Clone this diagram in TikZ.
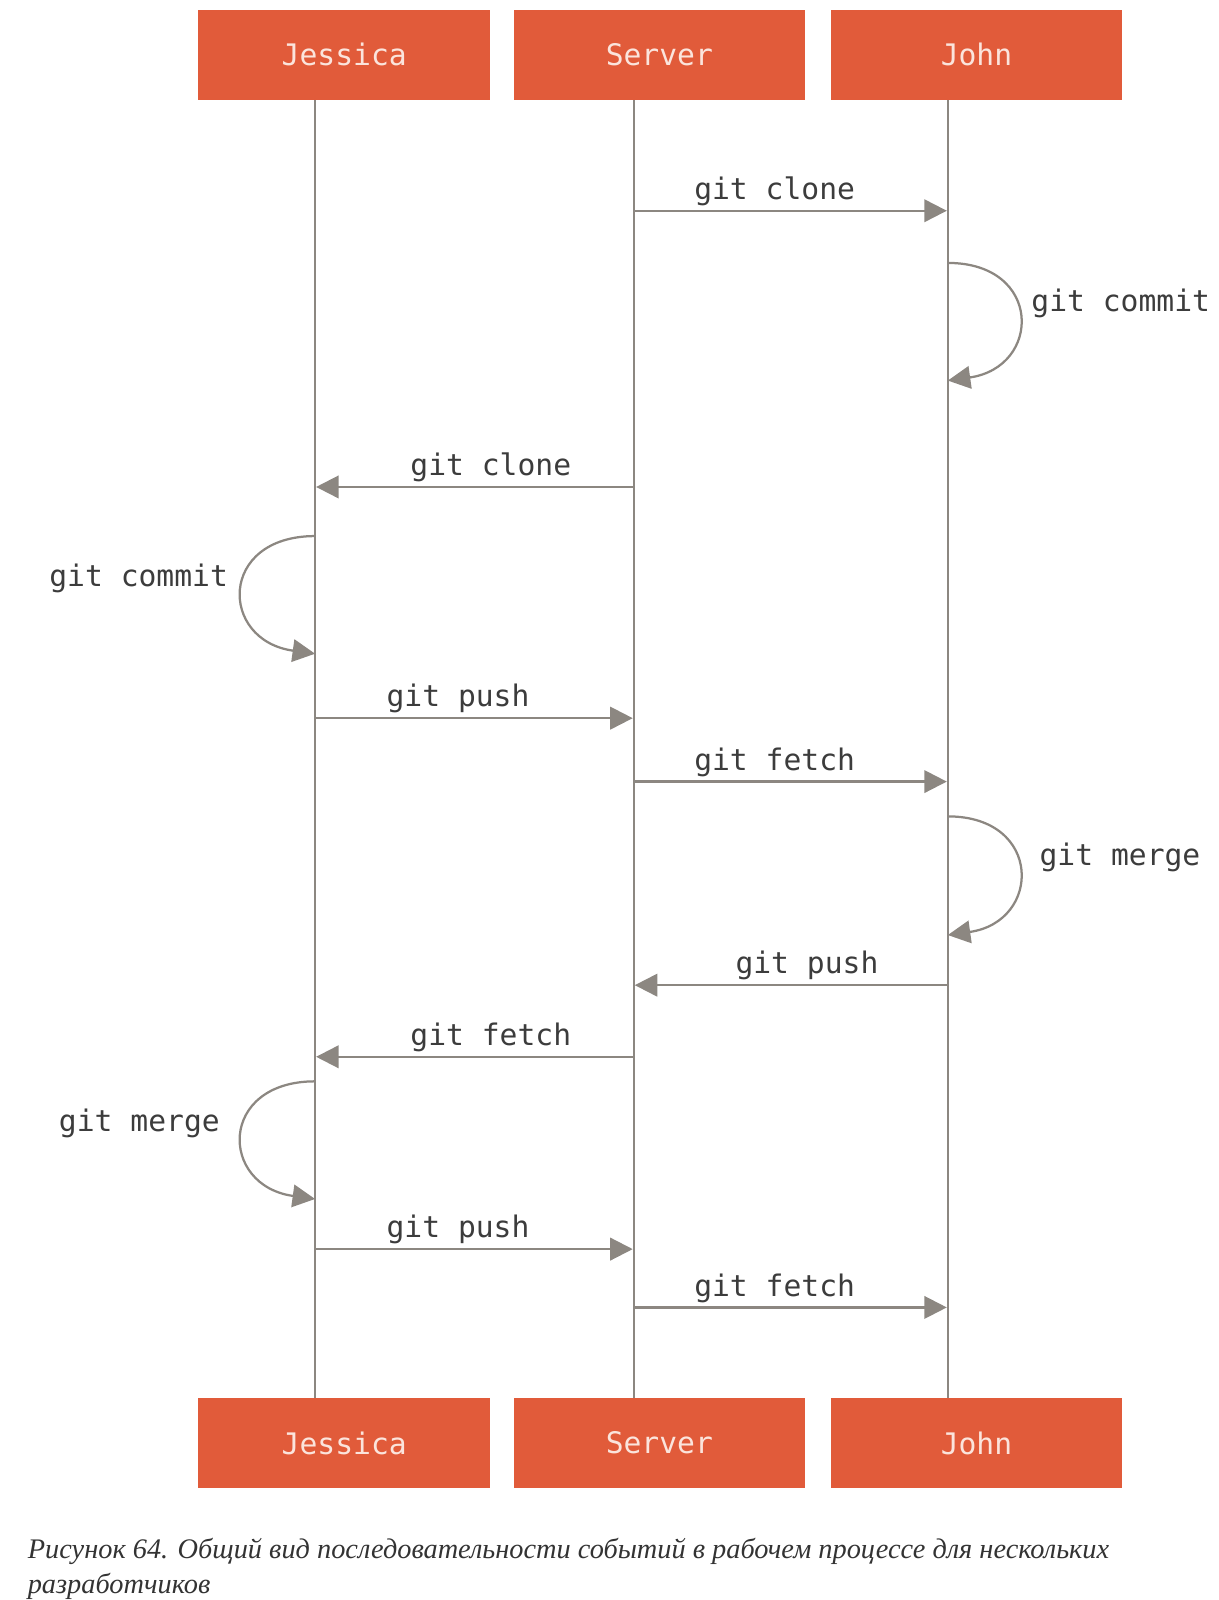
\documentclass[tikz,border=0pt]{standalone}
\usepackage{fontspec}
\setmonofont{DejaVu Sans Mono}
\newfontfamily\captionfont{Liberation Serif}
\usetikzlibrary{arrows.meta}
\definecolor{gitred}{HTML}{E15B3A}
\definecolor{lifegray}{HTML}{8C8781}
\definecolor{labelgray}{HTML}{3C3C3C}
\definecolor{boxtext}{HTML}{FBE4DC}
\tikzset{
  actor/.style={fill=gitred, minimum width=285pt, minimum height=88pt, inner sep=0pt,
    text=boxtext, font=\ttfamily\fontsize{29}{30}\selectfont},
  life/.style={draw=lifegray, line width=2.2pt},
  msg/.style={draw=lifegray, line width=2.2pt, -{Triangle[length=22pt,width=22pt]}},
  lbl/.style={text=labelgray, inner sep=0pt, font=\ttfamily\fontsize{29}{30}\selectfont},
  msglbl/.style={lbl, anchor=base, pos=0.45, yshift=11pt}
}
\begin{document}
\begin{tikzpicture}[x=1pt,y=-1pt]
  \useasboundingbox (0,0) rectangle (1191,1564);

  \coordinate (jt) at (308,97);
  \coordinate (jb) at (308,1367);
  \coordinate (st) at (619.5,97);
  \coordinate (sb) at (619.5,1367);
  \coordinate (ot) at (926.5,97);
  \coordinate (ob) at (926.5,1367);

  \coordinate (s1) at (619.5,206);
  \coordinate (o1) at (925.5,206);
  \coordinate (o2) at (926.5,257);
  \coordinate (o3) at (926.5,372);
  \coordinate (s2) at (619.5,476);
  \coordinate (j1) at (309,476);
  \coordinate (j2) at (308,524);
  \coordinate (j3) at (308,639);
  \coordinate (j4) at (308,702);
  \coordinate (s3) at (618.5,702);
  \coordinate (s4) at (619.5,764);
  \coordinate (o4) at (925.5,764);
  \coordinate (o5) at (926.5,798);
  \coordinate (o6) at (926.5,914);
  \coordinate (o7) at (926.5,963);
  \coordinate (s5) at (620.5,963);
  \coordinate (s6) at (619.5,1033);
  \coordinate (j5) at (309,1033);
  \coordinate (j6) at (308,1057);
  \coordinate (j7) at (308,1172);
  \coordinate (j8) at (308,1221);
  \coordinate (s7) at (618.5,1221);
  \coordinate (s8) at (619.5,1278);
  \coordinate (o8) at (925.5,1278);

  \draw[life] (jt) -- (jb);
  \draw[life] (st) -- (sb);
  \draw[life] (ot) -- (ob);

  \node[actor] (jessicatop) at (336.5,53.5) {Jessica};
  \node[actor] (servertop) at (644.5,53.5) {Server};
  \node[actor] (johntop) at (954.5,53.5) {John};
  \node[actor] (jessicabot) at (336.5,1410.5) {Jessica};
  \node[actor] (serverbot) at (644.5,1410.5) {Server};
  \node[actor] (johnbot) at (954.5,1410.5) {John};

  \draw[msg] (s1) -- node[msglbl] (clone1) {git clone} (o1);
  \draw[msg] (o2) .. controls +(93,0) and +(92,-13) .. (o3);
  \node[lbl, anchor=base west] (commit1) at (1008,304) {git commit};
  \draw[msg] (s2) -- node[msglbl] (clone2) {git clone} (j1);
  \draw[msg] (j2) .. controls +(-95,0) and +(-94,-13) .. (j3);
  \node[lbl, anchor=base east] (commit2) at (223,573) {git commit};
  \draw[msg] (j4) -- node[msglbl] (push1) {git push} (s3);
  \draw[msg] (s4) -- node[msglbl] (fetch1) {git fetch} (o4);
  \draw[msg] (o5) .. controls +(93,0) and +(92,-13) .. (o6);
  \node[lbl, anchor=base west] (merge1) at (1016,846) {git merge};
  \draw[msg] (o7) -- node[msglbl] (push2) {git push} (s5);
  \draw[msg] (s6) -- node[msglbl] (fetch2) {git fetch} (j5);
  \draw[msg] (j6) .. controls +(-95,0) and +(-94,-13) .. (j7);
  \node[lbl, anchor=base east] (merge2) at (215,1106) {git merge};
  \draw[msg] (j8) -- node[msglbl] (push3) {git push} (s7);
  \draw[msg] (s8) -- node[msglbl] (fetch3) {git fetch} (o8);

  \node[anchor=base west, inner sep=0pt, align=left, text=black!80,
    font=\captionfont\itshape\fontsize{27.7}{35}\selectfont] (caption) at (27,1558)
    {Рисунок 64. Общий вид последовательности событий в рабочем процессе для нескольких\\разработчиков};
\end{tikzpicture}
\end{document}
